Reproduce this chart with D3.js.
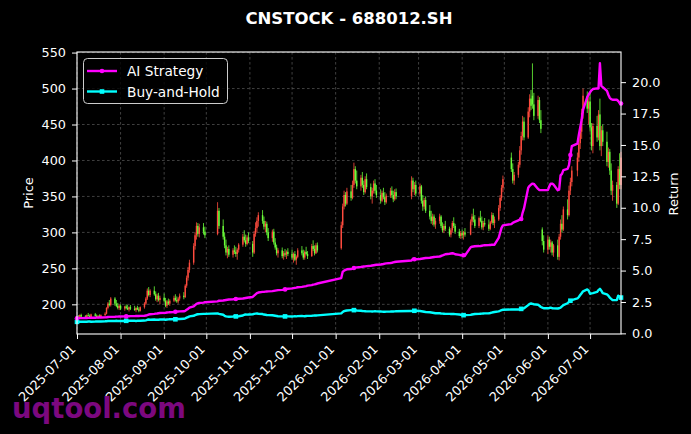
<!DOCTYPE html>
<html><head><meta charset="utf-8">
<script src="https://cdn.jsdelivr.net/npm/d3@7"></script>
<style>html,body{margin:0;padding:0;background:#000;}svg{display:block;font-family:"DejaVu Sans",sans-serif;}</style>
</head><body><svg id="chart" width="691" height="434"></svg>
<script>
const chartTitle = "CNSTOCK - 688012.SH";
const seriesNames = ["AI Strategy", "Buy-and-Hold"];
const priceTicks = [200, 250, 300, 350, 400, 450, 500, 550];
const returnTicks = [0, 2.5, 5, 7.5, 10, 12.5, 15, 17.5, 20];
const dateTicks = ["2025-07-01","2025-08-01","2025-09-01","2025-10-01","2025-11-01","2025-12-01","2026-01-01","2026-02-01","2026-03-01","2026-04-01","2026-05-01","2026-06-01","2026-07-01"];
const watermark = "uqtool.com";

// date, open, high, low, close
const candles = [
["2025-07-01",180,184,178,182],["2025-07-02",182,185,180,181],["2025-07-03",181,186,180,185],["2025-07-04",185,187,182,183],
["2025-07-07",183,185,180,181],["2025-07-08",181,186,180,185],["2025-07-09",185,188,183,184],["2025-07-10",184,186,181,182],
["2025-07-11",182,187,181,186],["2025-07-14",186,188,183,184],["2025-07-15",184,186,181,182],["2025-07-16",182,185,180,184],
["2025-07-17",184,186,181,182],["2025-07-18",182,186,181,185],["2025-07-21",185,189,183,187],["2025-07-22",187,196,186,195],
["2025-07-23",195,203,193,201],["2025-07-24",201,206,197,199],["2025-07-25",199,210,197,208],["2025-07-28",208,210,198,201],
["2025-07-29",201,206,196,198],["2025-07-30",198,202,193,195],["2025-07-31",195,200,192,198],
["2025-08-01",198,200,192,194],["2025-08-04",194,198,191,197],["2025-08-05",197,200,193,195],["2025-08-06",195,199,192,193],
["2025-08-07",193,197,190,196],["2025-08-08",196,199,192,194],["2025-08-11",194,198,191,192],["2025-08-12",192,196,189,195],
["2025-08-13",195,198,192,193],["2025-08-14",193,196,189,191],["2025-08-15",191,197,190,196],["2025-08-18",196,203,194,201],
["2025-08-19",201,210,199,208],["2025-08-20",208,222,206,219],["2025-08-21",219,224,211,213],["2025-08-22",213,221,210,219],
["2025-08-25",219,225,212,214],["2025-08-26",214,218,205,207],["2025-08-27",207,215,203,212],["2025-08-28",212,216,204,206],
["2025-08-29",206,212,200,209],
["2025-09-01",209,215,203,205],["2025-09-02",205,209,196,198],["2025-09-03",198,206,195,204],["2025-09-04",204,208,199,201],
["2025-09-05",201,207,198,205],["2025-09-08",205,212,203,209],["2025-09-09",209,214,204,206],["2025-09-10",206,211,202,204],
["2025-09-11",204,210,201,208],["2025-09-12",208,215,205,212],["2025-09-15",212,217,207,210],["2025-09-16",210,228,209,226],
["2025-09-17",226,240,223,237],["2025-09-18",237,252,233,248],["2025-09-19",248,262,244,258],["2025-09-22",258,285,255,281],
["2025-09-23",281,300,276,296],["2025-09-24",296,314,290,309],["2025-09-25",309,313,294,298],["2025-09-26",298,312,293,307],
["2025-09-29",307,313,297,301],["2025-09-30",301,308,292,296],
["2025-10-09",298,342,296,330],["2025-10-10",330,334,305,309],["2025-10-13",309,318,290,294],["2025-10-14",294,300,278,282],
["2025-10-15",282,290,268,272],["2025-10-16",272,280,264,277],["2025-10-17",277,282,266,269],["2025-10-20",269,278,265,275],
["2025-10-21",275,282,270,273],["2025-10-22",273,280,266,270],["2025-10-23",270,278,262,276],["2025-10-24",276,285,272,283],
["2025-10-27",283,298,280,294],["2025-10-28",294,303,286,289],["2025-10-29",289,297,280,284],["2025-10-30",284,296,282,293],
["2025-10-31",293,300,285,288],
["2025-11-03",284,288,266,272],["2025-11-04",272,302,270,298],["2025-11-05",298,314,294,306],["2025-11-06",306,321,300,316],
["2025-11-07",316,328,308,324],["2025-11-10",324,331,312,316],["2025-11-11",316,322,304,308],["2025-11-12",308,316,300,312],
["2025-11-13",312,315,296,300],["2025-11-14",300,306,288,292],["2025-11-17",292,304,287,301],["2025-11-18",301,305,283,286],
["2025-11-19",286,292,276,279],["2025-11-20",279,283,268,271],["2025-11-21",271,278,265,275],["2025-11-24",275,279,264,267],
["2025-11-25",267,274,262,271],["2025-11-26",271,277,266,269],["2025-11-27",269,275,263,273],["2025-11-28",273,278,267,270],
["2025-12-01",270,276,262,265],["2025-12-02",265,272,258,270],["2025-12-03",270,274,260,262],["2025-12-04",262,268,255,266],
["2025-12-05",266,278,264,275],["2025-12-08",275,281,268,271],["2025-12-09",271,276,262,265],["2025-12-10",265,275,262,273],
["2025-12-11",273,280,268,270],["2025-12-12",270,274,263,267],["2025-12-15",267,284,266,281],["2025-12-16",281,289,274,277],
["2025-12-17",277,282,268,271],["2025-12-18",271,285,270,282],["2025-12-19",282,286,272,275],
["2026-01-05",278,315,276,310],["2026-01-06",310,340,306,336],["2026-01-07",336,358,332,352],["2026-01-08",352,356,336,340],
["2026-01-09",340,362,338,357],["2026-01-12",357,366,344,348],["2026-01-13",348,372,346,366],["2026-01-14",366,397,362,388],
["2026-01-15",388,392,368,372],["2026-01-16",372,386,360,364],["2026-01-19",364,380,358,376],["2026-01-20",376,384,362,366],
["2026-01-21",366,372,352,356],["2026-01-22",356,378,354,374],["2026-01-23",374,382,360,363],["2026-01-26",363,368,346,350],
["2026-01-27",350,362,340,358],["2026-01-28",358,372,354,368],["2026-01-29",368,374,354,358],["2026-01-30",358,366,348,352],
["2026-02-02",352,360,340,344],["2026-02-03",344,358,342,355],["2026-02-04",355,362,346,349],["2026-02-05",349,356,338,342],
["2026-02-06",342,354,340,351],["2026-02-09",351,362,348,358],["2026-02-10",358,364,348,352],["2026-02-11",352,358,342,346],
["2026-02-12",346,360,344,356],["2026-02-13",356,361,346,350],["2026-02-24",350,378,346,372],["2026-02-25",372,376,356,360],
["2026-02-26",360,370,352,366],["2026-02-27",366,372,350,354],
["2026-03-02",354,368,350,364],["2026-03-03",364,366,340,344],["2026-03-04",344,352,330,336],["2026-03-05",336,348,332,345],
["2026-03-06",345,350,327,330],["2026-03-09",330,338,318,322],["2026-03-10",322,330,312,316],["2026-03-11",316,326,310,322],
["2026-03-12",322,325,308,311],["2026-03-13",311,320,305,316],["2026-03-16",316,326,312,322],["2026-03-17",322,324,306,309],
["2026-03-18",309,314,300,303],["2026-03-19",303,312,299,309],["2026-03-20",309,316,302,305],["2026-03-23",305,308,294,297],
["2026-03-24",297,306,293,303],["2026-03-25",303,316,300,313],["2026-03-26",313,321,306,309],["2026-03-27",309,312,298,301],
["2026-03-30",301,305,292,295],["2026-03-31",295,302,291,299],
["2026-04-01",299,304,292,296],["2026-04-02",296,302,290,300],["2026-04-03",300,306,294,297],["2026-04-07",297,318,296,315],
["2026-04-08",315,326,310,322],["2026-04-09",322,333,314,318],["2026-04-10",318,324,306,309],["2026-04-13",309,322,306,320],
["2026-04-14",320,330,314,316],["2026-04-15",316,322,304,307],["2026-04-16",307,316,303,313],["2026-04-17",313,320,308,311],
["2026-04-20",311,318,302,305],["2026-04-21",305,316,303,314],["2026-04-22",314,328,312,324],["2026-04-23",324,327,310,313],
["2026-04-24",313,322,306,318],["2026-04-27",318,338,316,334],["2026-04-28",334,352,330,348],["2026-04-29",348,366,344,362],
["2026-04-30",362,379,356,374],
["2026-05-06",404,411,384,388],["2026-05-07",388,396,368,372],["2026-05-08",372,384,366,380],["2026-05-11",380,398,376,394],
["2026-05-12",394,420,390,414],["2026-05-13",414,440,408,434],["2026-05-14",434,462,428,454],["2026-05-15",454,460,428,432],
["2026-05-18",432,474,430,468],["2026-05-19",468,492,460,486],["2026-05-20",486,498,470,476],["2026-05-21",490,535,472,478],
["2026-05-22",478,494,456,462],["2026-05-25",462,490,458,484],["2026-05-26",484,488,452,456],["2026-05-27",456,470,438,444],
["2026-05-28",304,307,282,288],["2026-05-29",288,296,272,276],
["2026-06-01",276,296,270,290],["2026-06-02",290,294,276,280],["2026-06-03",280,290,272,286],["2026-06-04",286,288,268,272],
["2026-06-05",272,284,266,282],["2026-06-08",282,290,262,266],["2026-06-09",266,298,261,294],["2026-06-10",294,318,290,312],
["2026-06-11",312,324,300,304],["2026-06-12",304,336,302,332],["2026-06-15",332,346,318,324],["2026-06-16",324,365,322,358],
["2026-06-17",358,376,352,370],["2026-06-18",370,392,364,386],["2026-06-22",386,411,378,404],["2026-06-23",404,430,398,424],
["2026-06-24",424,448,416,440],["2026-06-25",440,472,430,466],["2026-06-26",466,500,458,490],["2026-06-29",490,496,466,472],
["2026-06-30",472,488,450,482],
["2026-07-01",482,494,440,446],["2026-07-02",446,452,414,420],["2026-07-03",420,452,410,448],["2026-07-06",448,462,426,432],
["2026-07-07",432,470,428,464],["2026-07-08",464,486,414,420],["2026-07-09",420,448,406,442],["2026-07-10",442,450,420,426],
["2026-07-13",426,440,392,398],["2026-07-14",398,418,390,412],["2026-07-15",412,416,380,386],["2026-07-16",386,396,352,358],
["2026-07-17",358,372,344,366],["2026-07-20",366,370,334,340],["2026-07-21",340,392,338,388],["2026-07-22",388,410,360,366],
["2026-07-23",366,412,360,404]
];

const strategy = [
1.20,1.20,1.21,1.21,1.22,1.22,1.23,1.23,1.24,1.24,1.25,1.25,1.26,1.26,1.27,1.28,1.30,1.31,1.31,1.32,1.33,1.33,1.34,
1.34,1.35,1.35,1.36,1.36,1.37,1.37,1.38,1.38,1.38,1.39,1.40,1.42,1.46,1.50,1.52,1.55,1.57,1.58,1.60,1.62,
1.63,1.64,1.66,1.67,1.68,1.70,1.72,1.73,1.74,1.75,1.76,1.80,1.88,1.95,2.05,2.15,2.25,2.35,2.40,2.42,2.45,2.48,
2.55,2.60,2.62,2.64,2.66,2.68,2.70,2.72,2.73,2.74,2.75,2.76,2.78,2.80,2.82,2.84,2.86,
2.90,3.00,3.10,3.20,3.25,3.30,3.30,3.32,3.33,3.34,3.36,3.38,3.40,3.42,3.44,3.46,3.48,3.50,3.52,3.55,
3.58,3.60,3.62,3.64,3.67,3.70,3.72,3.74,3.76,3.80,3.84,3.88,3.90,3.93,3.97,
4.40,4.90,5.00,5.05,5.10,5.12,5.15,5.20,5.22,5.25,5.28,5.30,5.32,5.33,5.35,5.38,5.40,5.42,5.44,5.46,
5.48,5.50,5.52,5.55,5.57,5.60,5.62,5.65,5.68,5.70,5.80,5.95,5.90,5.90,
5.92,5.94,5.96,5.98,6.00,6.02,6.04,6.06,6.08,6.09,6.12,6.16,6.20,6.25,6.30,6.34,6.36,6.38,6.36,6.30,6.25,6.22,
6.22,6.22,6.20,6.85,6.90,6.92,6.94,6.95,6.96,6.98,7.00,7.02,7.03,7.04,7.05,7.05,7.06,7.60,8.00,8.40,8.60,
8.70,8.80,8.85,9.00,9.05,9.10,9.60,9.95,11.60,11.75,11.85,11.92,11.90,11.50,11.40,11.40,11.40,11.40,
11.40,11.70,11.92,11.92,11.85,11.40,11.45,12.58,12.70,13.00,13.10,13.40,14.20,14.90,15.10,15.80,16.40,17.00,17.80,18.80,19.00,
19.20,19.35,19.45,19.50,19.50,21.50,19.70,19.60,19.30,19.00,18.75,18.65,18.60,18.60,18.50,18.35,18.30
];

const buyHold = [
0.92,0.92,0.93,0.93,0.92,0.93,0.94,0.94,0.93,0.94,0.95,0.94,0.95,0.95,0.96,0.97,0.98,0.99,0.98,0.99,1.00,0.99,0.98,
0.98,0.99,1.00,0.99,1.00,1.01,1.00,0.99,1.00,1.01,1.00,1.02,1.04,1.08,1.10,1.09,1.10,1.08,1.09,1.08,1.10,
1.10,1.08,1.10,1.11,1.12,1.13,1.12,1.13,1.14,1.15,1.16,1.20,1.25,1.30,1.35,1.40,1.45,1.50,1.52,1.53,1.55,1.55,
1.59,1.55,1.48,1.40,1.35,1.33,1.32,1.34,1.36,1.35,1.33,1.36,1.42,1.48,1.50,1.49,1.50,
1.52,1.55,1.57,1.58,1.56,1.54,1.50,1.48,1.46,1.45,1.44,1.42,1.40,1.38,1.36,1.35,1.34,1.35,1.36,1.35,
1.34,1.35,1.36,1.35,1.37,1.38,1.37,1.36,1.38,1.39,1.40,1.41,1.42,1.42,1.43,
1.59,1.70,1.77,1.80,1.82,1.85,1.86,1.85,1.84,1.82,1.80,1.78,1.77,1.76,1.75,1.75,1.74,1.75,1.76,1.75,
1.74,1.73,1.72,1.72,1.73,1.74,1.75,1.74,1.75,1.76,1.78,1.82,1.80,1.80,
1.78,1.76,1.74,1.72,1.70,1.68,1.66,1.64,1.62,1.60,1.60,1.58,1.57,1.56,1.55,1.55,1.54,1.55,1.54,1.53,1.50,1.48,
1.46,1.45,1.45,1.47,1.50,1.52,1.54,1.55,1.56,1.57,1.58,1.59,1.60,1.62,1.65,1.68,1.70,1.75,1.80,1.85,1.88,
1.90,1.90,1.91,1.90,1.92,1.95,1.98,2.00,2.25,2.35,2.38,2.35,2.32,2.28,2.20,2.10,2.05,2.00,
2.00,2.02,2.05,2.00,1.99,1.98,2.00,2.05,2.15,2.25,2.40,2.50,2.60,2.65,2.78,2.90,3.05,3.20,3.35,3.50,3.40,
3.15,3.18,3.20,3.30,3.45,3.55,3.40,3.20,3.10,3.00,2.85,2.75,2.65,2.65,3.00,2.90,2.85
];

// ---------- drawing ----------
const svg = d3.select("#chart");
const M = {l: 77, r: 621, t: 52, b: 334};
const parse = d3.utcParse("%Y-%m-%d");
const dates = candles.map(c => parse(c[0]));
const n = Math.min(candles.length, strategy.length, buyHold.length);

const x = d3.scaleUtc().domain([dates[0], dates[dates.length - 1]]).range([M.l, M.r]);
const yP = d3.scaleLinear().domain([158.75, 550.8]).range([M.b, M.t]);
const yR = d3.scaleLinear().domain([-0.05, 22.4]).range([M.b, M.t]);

svg.append("rect").attr("width", 691).attr("height", 434).attr("fill", "#000");

const grid = svg.append("g").attr("stroke", "#5a5a5a").attr("stroke-width", 0.7).attr("stroke-dasharray", "2.6,2.4");
grid.selectAll(".gx").data(dateTicks).join("line")
  .attr("x1", d => x(parse(d))).attr("x2", d => x(parse(d))).attr("y1", M.t).attr("y2", M.b);
grid.selectAll(".gy").data(priceTicks).join("line")
  .attr("x1", M.l).attr("x2", M.r).attr("y1", d => yP(d)).attr("y2", d => yP(d));

const upColor = "#ff4b3e", downColor = "#6bff3a";
const cg = svg.append("g");
const bw = 1.4;
candles.forEach((c, i) => {
  const cx = x(dates[i]);
  const col = c[4] >= c[1] ? upColor : downColor;
  cg.append("line").attr("x1", cx).attr("x2", cx).attr("y1", yP(c[2])).attr("y2", yP(c[3]))
    .attr("stroke", col).attr("stroke-width", 0.8);
  const yt = yP(Math.max(c[1], c[4])), yb = yP(Math.min(c[1], c[4]));
  cg.append("rect").attr("x", cx - bw / 2).attr("y", yt).attr("width", bw).attr("height", Math.max(0.6, yb - yt))
    .attr("fill", col);
});

const lineGen = (arr) => d3.line().x((d, i) => x(dates[i])).y(d => yR(d))(arr.slice(0, n));
svg.append("path").attr("d", lineGen(buyHold)).attr("fill", "none").attr("stroke", "#00ffff").attr("stroke-width", 2.4).attr("stroke-linejoin", "round");
svg.append("path").attr("d", lineGen(strategy)).attr("fill", "none").attr("stroke", "#ff00ff").attr("stroke-width", 2.4).attr("stroke-linejoin", "round");
const every = 25;
const idx = d3.range(0, n, every);
svg.append("g").selectAll("rect").data(idx).join("rect")
  .attr("x", i => x(dates[i]) - 2.3).attr("y", i => yR(buyHold[i]) - 2.3).attr("width", 4.6).attr("height", 4.6).attr("fill", "#00ffff");
svg.append("g").selectAll("circle").data(idx).join("circle")
  .attr("cx", i => x(dates[i])).attr("cy", i => yR(strategy[i])).attr("r", 2.3).attr("fill", "#ff00ff");

// frame
svg.append("rect").attr("x", M.l).attr("y", M.t).attr("width", M.r - M.l).attr("height", M.b - M.t)
  .attr("fill", "none").attr("stroke", "#fff").attr("stroke-width", 1.1);

const styleAxis = g => {
  g.select(".domain").remove();
  g.selectAll(".tick line").attr("stroke", "#fff").attr("stroke-width", 1);
  g.selectAll(".tick text").attr("fill", "#fff").style("font-size", "12.8px").style("font-family", "DejaVu Sans");
};
svg.append("g").attr("transform", `translate(${M.l},0)`)
  .call(d3.axisLeft(yP).tickValues(priceTicks).tickFormat(d3.format("d")).tickSize(5).tickPadding(6))
  .call(styleAxis);
svg.append("g").attr("transform", `translate(${M.r},0)`)
  .call(d3.axisRight(yR).tickValues(returnTicks).tickFormat(d3.format(".1f")).tickSize(5).tickPadding(6))
  .call(styleAxis);
const xa = svg.append("g").attr("transform", `translate(0,${M.b})`)
  .call(d3.axisBottom(x).tickValues(dateTicks.map(parse)).tickFormat(d3.utcFormat("%Y-%m-%d")).tickSize(5))
  .call(styleAxis);
xa.selectAll(".tick text").attr("x", 0).attr("y", 0).attr("dy", 0).attr("text-anchor", "end")
  .attr("transform", "translate(-1,16) rotate(-45)");

svg.append("text").attr("transform", "translate(33,193) rotate(-90)").attr("text-anchor", "middle")
  .attr("fill", "#fff").style("font-size", "13px").text("Price");
svg.append("text").attr("transform", "translate(678,194) rotate(-90)").attr("text-anchor", "middle")
  .attr("fill", "#fff").style("font-size", "13px").text("Return");

svg.append("text").attr("x", (M.l + M.r) / 2).attr("y", 24).attr("text-anchor", "middle")
  .attr("fill", "#fff").style("font-size", "16.5px").style("font-weight", "bold").text(chartTitle);

// legend
const lg = svg.append("g");
lg.append("rect").attr("x", 83.5).attr("y", 58.5).attr("width", 144).attr("height", 45).attr("rx", 4)
  .attr("fill", "#000").attr("fill-opacity", 0.8).attr("stroke", "#cccccc").attr("stroke-width", 1);
const legColors = ["#ff00ff", "#00ffff"];
seriesNames.forEach((s, i) => {
  const yy = 71 + i * 20.5;
  lg.append("line").attr("x1", 87).attr("x2", 117).attr("y1", yy).attr("y2", yy).attr("stroke", legColors[i]).attr("stroke-width", 2.4);
  if (i === 0) lg.append("circle").attr("cx", 102).attr("cy", yy).attr("r", 2.3).attr("fill", legColors[i]);
  else lg.append("rect").attr("x", 99.7).attr("y", yy - 2.3).attr("width", 4.6).attr("height", 4.6).attr("fill", legColors[i]);
  lg.append("text").attr("x", 127).attr("y", yy + 5).attr("fill", "#fff").style("font-size", "13.7px").text(s);
});

svg.append("text").attr("x", 12).attr("y", 418).attr("fill", "#8e0a92").attr("fill-opacity", 0.88)
  .style("font-size", "27.5px").style("font-weight", "bold").text(watermark);
</script>
</body></html>
